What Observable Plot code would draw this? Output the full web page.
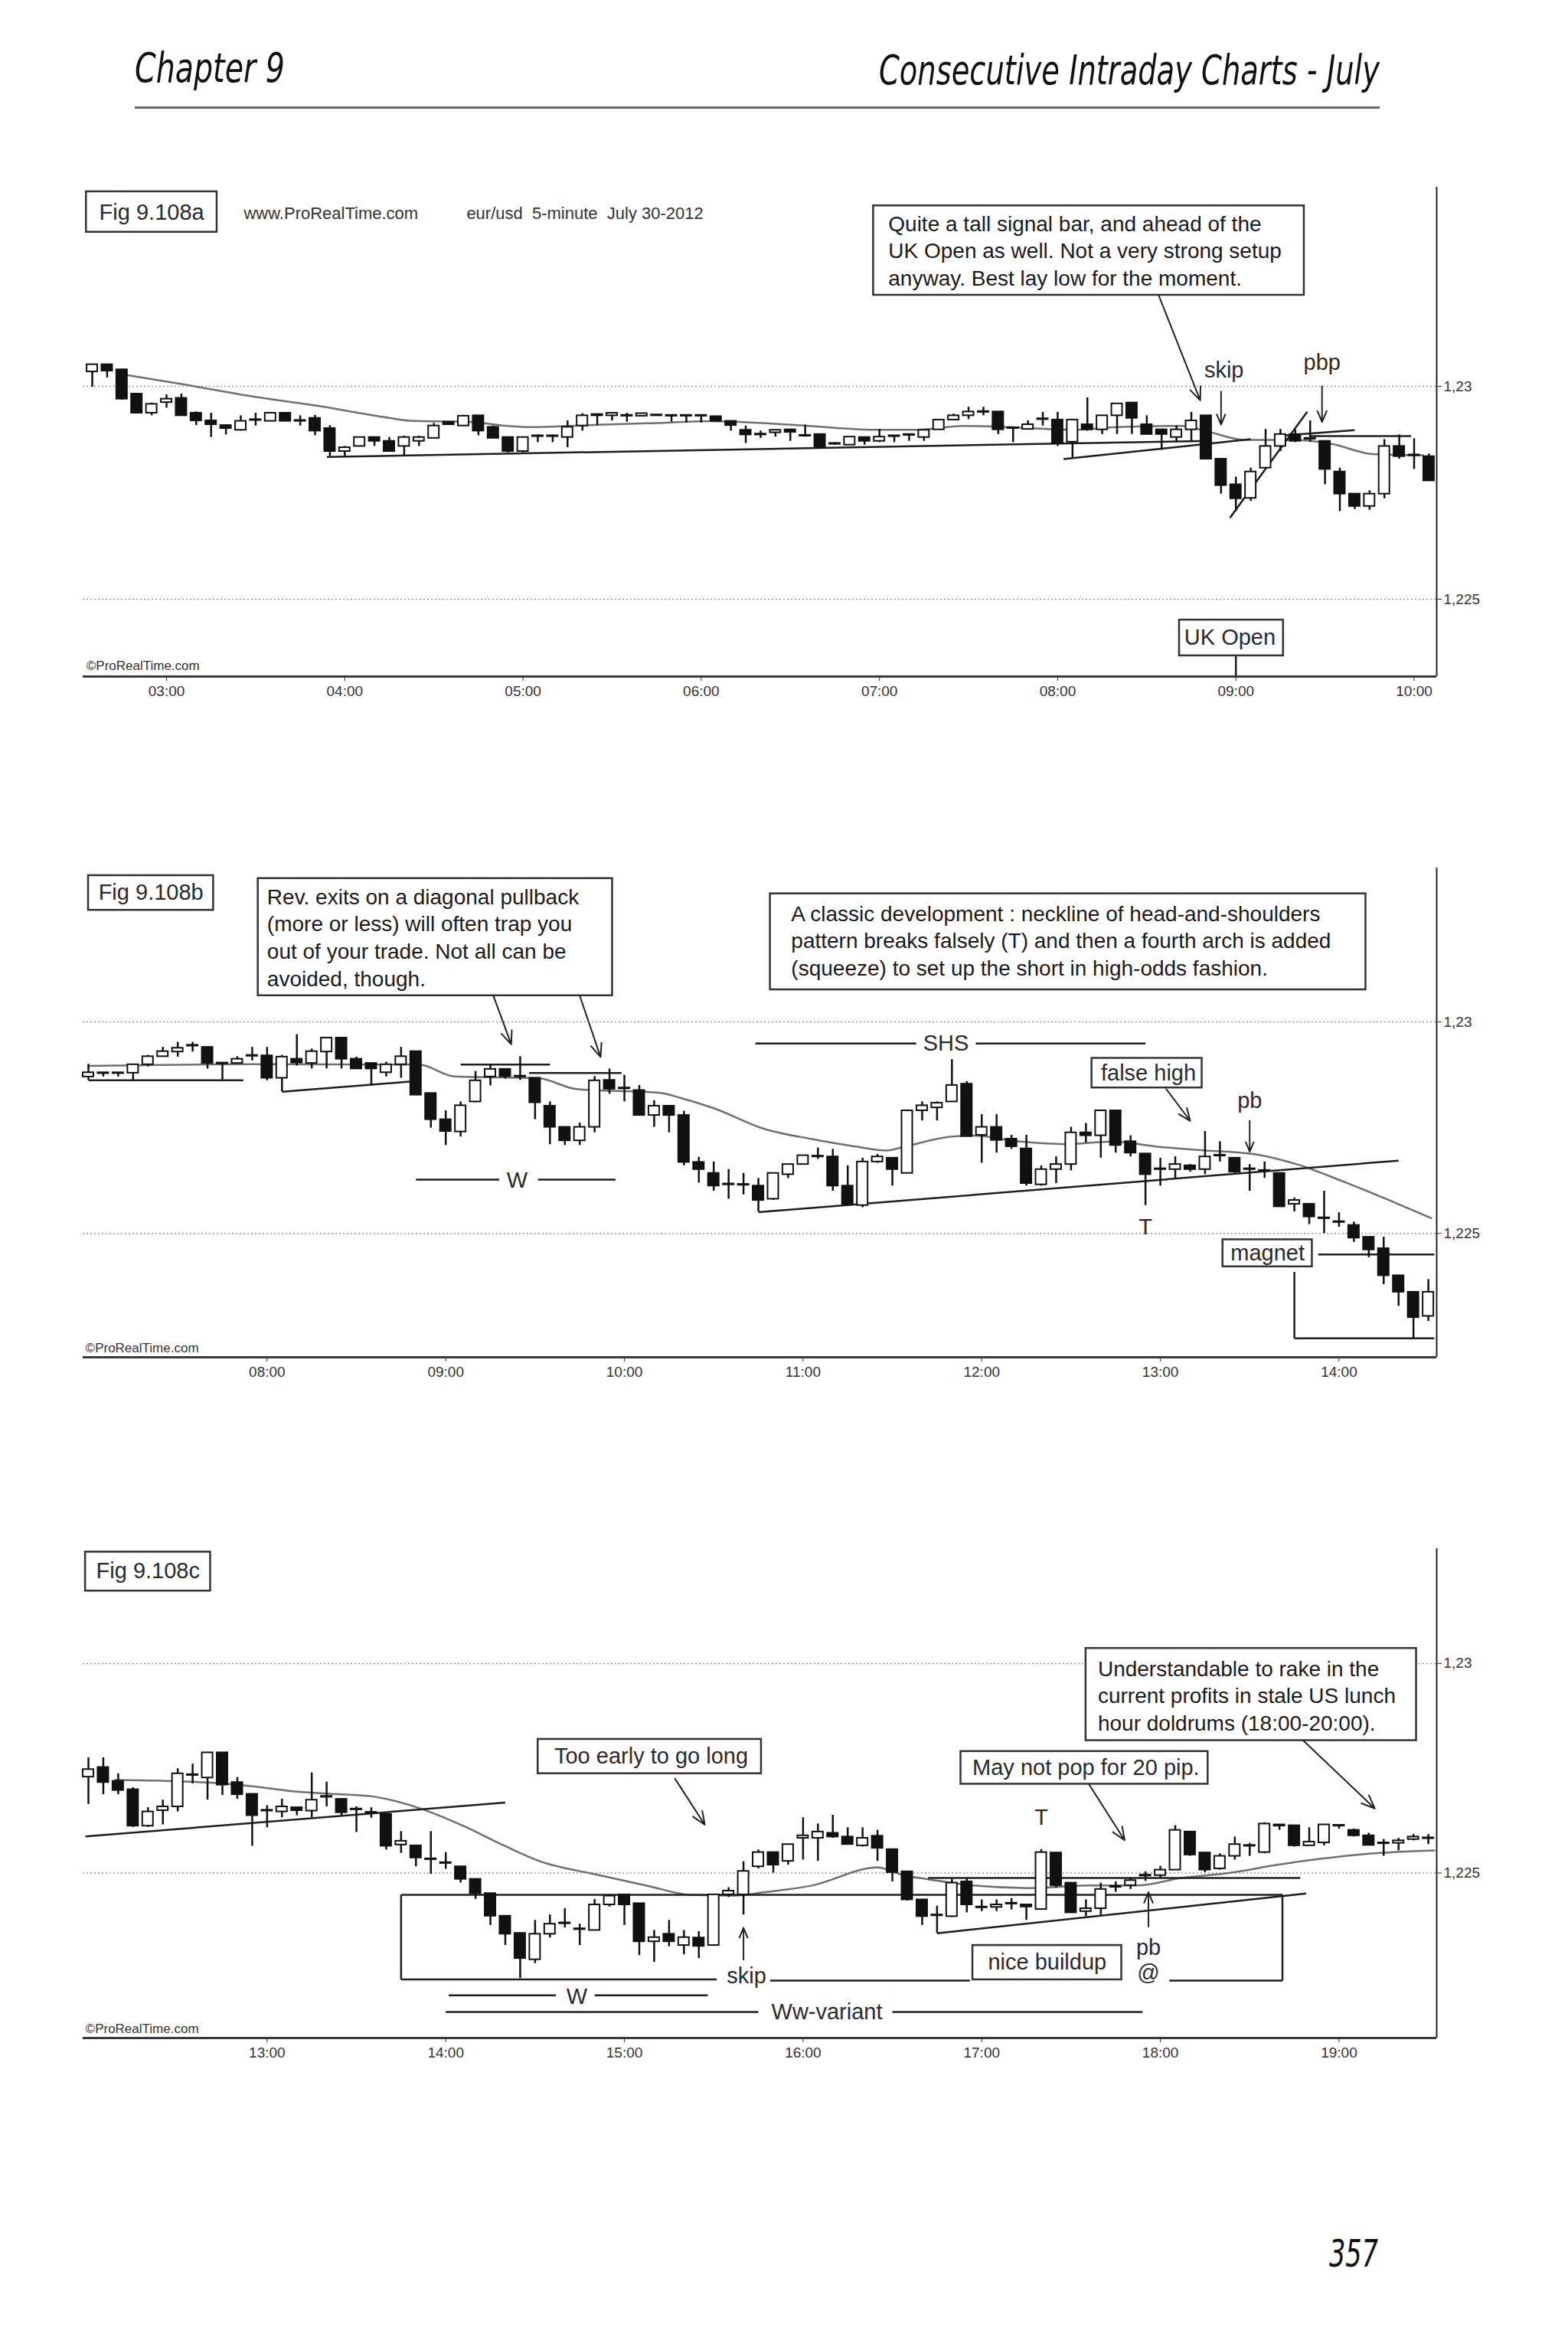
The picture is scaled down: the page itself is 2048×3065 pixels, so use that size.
<!DOCTYPE html>
<html><head><meta charset="utf-8">
<script src="https://cdn.jsdelivr.net/npm/d3@7"></script>
<script src="https://cdn.jsdelivr.net/npm/@observablehq/plot@0.6"></script>
<style>
body{margin:0;background:#fff;}
#page{position:relative;width:2048px;height:3065px;background:#fff;overflow:hidden;}
.chart{position:absolute;left:0;}
.deco{position:absolute;left:0;top:0;}
</style></head><body><div id="page">
<svg class="deco" width="2048" height="3065" style="font-family:'Liberation Sans Narrow','DejaVu Sans Condensed','Liberation Sans',sans-serif;font-style:italic">
<text x="176" y="107" font-size="54" fill="#111" textLength="196" lengthAdjust="spacingAndGlyphs">Chapter 9</text>
<text x="1802" y="110" font-size="54" fill="#111" text-anchor="end" textLength="654" lengthAdjust="spacingAndGlyphs">Consecutive Intraday Charts - July</text>
<rect x="176" y="139" width="1626" height="3" fill="#6a6a6a"></rect>
<text x="1800" y="2960" font-size="50" fill="#111" text-anchor="end" textLength="64" lengthAdjust="spacingAndGlyphs">357</text>
</svg>
</div>
<script>
// ---------------- Chart a : eur/usd 5-minute, 30 July 2012, bars from 02:35 ----------------
const aStart = "02:35";
const aOpen = [1.23034,1.23051,1.23039,1.22982,1.22937,1.22962,1.22972,1.22937,1.22919,1.22908,
1.22897,1.22920,1.22918,1.22937,1.22920,1.22925,1.22901,1.22847,1.22859,1.22880,
1.22871,1.22859,1.22871,1.22878,1.22916,1.22907,1.22931,1.22904,1.22880,1.22847,
1.22882,1.22882,1.22880,1.22907,1.22934,1.22931,1.22930,1.22930,1.22931,1.22932,
1.22932,1.22932,1.22929,1.22918,1.22897,1.22886,1.22891,1.22898,1.22883,1.22887,
1.22864,1.22862,1.22880,1.22871,1.22884,1.22887,1.22880,1.22898,1.22921,1.22931,
1.22939,1.22940,1.22903,1.22899,1.22922,1.22921,1.22869,1.22910,1.22898,1.22931,
1.22961,1.22910,1.22898,1.22880,1.22898,1.22931,1.22829,1.22769,1.22737,1.22808,
1.22859,1.22887,1.22876,1.22871,1.22799,1.22747,1.22718,1.22747,1.22859,1.22837,
1.22835];
const aHigh = [1.23052,1.23052,1.23040,1.22983,1.22961,1.22980,1.22982,1.22940,1.22937,1.22910,
1.22931,1.22937,1.22937,1.22937,1.22931,1.22932,1.22908,1.22859,1.22880,1.22880,
1.22880,1.22883,1.22883,1.22913,1.22916,1.22932,1.22931,1.22907,1.22880,1.22880,
1.22886,1.22886,1.22919,1.22936,1.22934,1.22937,1.22937,1.22937,1.22934,1.22932,
1.22932,1.22932,1.22930,1.22918,1.22907,1.22895,1.22897,1.22898,1.22909,1.22887,
1.22868,1.22881,1.22880,1.22899,1.22884,1.22887,1.22897,1.22921,1.22935,1.22951,
1.22951,1.22940,1.22903,1.22919,1.22939,1.22939,1.22923,1.22973,1.22931,1.22959,
1.22961,1.22931,1.22898,1.22907,1.22939,1.22931,1.22829,1.22787,1.22808,1.22899,
1.22899,1.22898,1.22919,1.22871,1.22808,1.22747,1.22755,1.22875,1.22886,1.22877,
1.22841];
const aLow = [1.22998,1.23020,1.22968,1.22936,1.22931,1.22949,1.22930,1.22908,1.22880,1.22886,
1.22895,1.22907,1.22918,1.22918,1.22907,1.22884,1.22835,1.22836,1.22859,1.22859,
1.22847,1.22836,1.22859,1.22878,1.22910,1.22907,1.22884,1.22878,1.22844,1.22844,
1.22868,1.22868,1.22856,1.22895,1.22908,1.22919,1.22916,1.22930,1.22930,1.22916,
1.22914,1.22914,1.22918,1.22895,1.22866,1.22878,1.22881,1.22871,1.22881,1.22854,
1.22862,1.22862,1.22862,1.22868,1.22868,1.22871,1.22871,1.22898,1.22921,1.22922,
1.22931,1.22887,1.22868,1.22899,1.22907,1.22859,1.22832,1.22895,1.22887,1.22887,
1.22887,1.22887,1.22850,1.22869,1.22869,1.22829,1.22747,1.22706,1.22730,1.22808,
1.22847,1.22868,1.22869,1.22769,1.22706,1.22711,1.22709,1.22736,1.22829,1.22805,
1.22778];
const aClose = [1.23051,1.23036,1.22970,1.22937,1.22958,1.22970,1.22931,1.22919,1.22910,1.22901,
1.22918,1.22922,1.22937,1.22918,1.22918,1.22895,1.22847,1.22856,1.22880,1.22871,
1.22847,1.22880,1.22880,1.22907,1.22910,1.22930,1.22895,1.22878,1.22847,1.22880,
1.22884,1.22884,1.22904,1.22931,1.22931,1.22937,1.22932,1.22936,1.22933,1.22930,
1.22930,1.22930,1.22918,1.22908,1.22886,1.22888,1.22897,1.22892,1.22885,1.22856,
1.22866,1.22881,1.22871,1.22881,1.22882,1.22885,1.22897,1.22921,1.22931,1.22940,
1.22941,1.22898,1.22901,1.22910,1.22924,1.22865,1.22921,1.22898,1.22931,1.22959,
1.22925,1.22887,1.22887,1.22898,1.22919,1.22829,1.22767,1.22736,1.22799,1.22859,
1.22887,1.22871,1.22878,1.22805,1.22747,1.22718,1.22747,1.22859,1.22835,1.22839,
1.22778];
const aMA = [["02:46",1.23027],["03:07",1.23003],["03:29",1.22976],["03:51",1.22954],["04:13",1.22928],["04:22",1.22919],["04:43",1.22916],["04:53",1.22908],["05:02",1.22904],["05:12",1.22906],["05:27",1.22910],["05:42",1.22913],["06:03",1.22918],["06:22",1.22913],["06:36",1.22907],["06:59",1.22898],["07:13",1.22898],["07:28",1.22907],["07:43",1.22904],["08:05",1.22898],["08:20",1.22904],["08:42",1.22907],["08:50",1.22895],["09:03",1.22874],["09:19",1.22874],["09:32",1.22865],["09:46",1.22841],["10:03",1.22838]];
const aTicks = ["03:00","04:00","05:00","06:00","07:00","08:00","09:00","10:00"];
const aLines = [["03:54",1.22834,"08:52",1.22872],["08:02",1.22829,"09:05",1.22876],["09:15",1.22884,"09:40",1.22897],["09:25",1.22883,"09:59",1.22883],["08:58",1.22691,"09:24",1.22940],["09:00",1.22367,"09:00",1.22318]];
const aBoxes = [["02:33",1.23362,"03:17",1.23457],["06:58",1.23214,"09:23",1.23424],["08:41",1.22367,"09:16",1.22451]];
const aNotes = [["07:03",1.23410,"Quite a tall signal bar, and ahead of the\nUK Open as well. Not a very strong setup\nanyway. Best lay low for the moment."]];
const aLabels = [["02:55",1.23408,"Fig 9.108a"],["08:56",1.23038,"skip"],["09:29",1.23056,"pbp"],["08:58",1.22409,"UK Open"]];
const aSmall = [["03:26",1.23405,"www.ProRealTime.com"],["04:41",1.23405,"eur/usd  5-minute  July 30-2012"]];
const aCopy = [["02:33",1.22344,"©ProRealTime.com"]];
const aArrows = [["08:34",1.23214,"08:48",1.22967],["08:55",1.22988,"08:55",1.22910],["09:29",1.23000,"09:29",1.22916]];

// ---------------- Chart b : bars from 07:00 ----------------
const bStart = "07:00";
const bOpen = [1.22870,1.22880,1.22880,1.22879,1.22899,1.22918,1.22929,1.22943,1.22940,1.22903,
1.22902,1.22919,1.22920,1.22867,1.22912,1.22902,1.22929,1.22962,1.22912,1.22902,
1.22880,1.22899,1.22930,1.22831,1.22769,1.22740,1.22811,1.22870,1.22888,1.22872,
1.22867,1.22801,1.22751,1.22719,1.22751,1.22862,1.22844,1.22838,1.22779,1.22801,
1.22779,1.22668,1.22642,1.22617,1.22616,1.22612,1.22581,1.22639,1.22663,1.22681,
1.22681,1.22612,1.22566,1.22669,1.22678,1.22642,1.22790,1.22797,1.22811,1.22853,
1.22732,1.22751,1.22723,1.22700,1.22615,1.22651,1.22663,1.22738,1.22731,1.22790,
1.22717,1.22688,1.22653,1.22651,1.22660,1.22651,1.22685,1.22678,1.22653,1.22649,
1.22642,1.22569,1.22569,1.22537,1.22528,1.22519,1.22491,1.22464,1.22400,1.22361,
1.22304];
const bHigh = [1.22900,1.22880,1.22880,1.22899,1.22921,1.22940,1.22952,1.22952,1.22940,1.22903,
1.22918,1.22940,1.22940,1.22921,1.22970,1.22936,1.22962,1.22962,1.22917,1.22902,
1.22905,1.22940,1.22930,1.22831,1.22790,1.22811,1.22883,1.22899,1.22889,1.22918,
1.22867,1.22811,1.22751,1.22761,1.22871,1.22889,1.22874,1.22850,1.22814,1.22801,
1.22789,1.22680,1.22669,1.22651,1.22642,1.22630,1.22642,1.22663,1.22684,1.22702,
1.22699,1.22660,1.22678,1.22687,1.22678,1.22790,1.22811,1.22811,1.22911,1.22859,
1.22781,1.22781,1.22732,1.22732,1.22660,1.22681,1.22751,1.22760,1.22790,1.22790,
1.22731,1.22688,1.22678,1.22681,1.22663,1.22741,1.22717,1.22678,1.22663,1.22669,
1.22642,1.22584,1.22569,1.22600,1.22549,1.22527,1.22491,1.22491,1.22400,1.22361,
1.22391];
const bLow = [1.22862,1.22870,1.22870,1.22862,1.22894,1.22917,1.22917,1.22929,1.22889,1.22863,
1.22902,1.22908,1.22861,1.22835,1.22896,1.22889,1.22889,1.22889,1.22889,1.22849,
1.22870,1.22867,1.22827,1.22749,1.22708,1.22728,1.22809,1.22849,1.22865,1.22862,
1.22769,1.22710,1.22708,1.22708,1.22738,1.22829,1.22811,1.22779,1.22751,1.22738,
1.22660,1.22619,1.22600,1.22581,1.22591,1.22551,1.22578,1.22630,1.22663,1.22675,
1.22600,1.22566,1.22561,1.22666,1.22612,1.22642,1.22766,1.22766,1.22811,1.22729,
1.22666,1.22690,1.22699,1.22612,1.22612,1.22618,1.22648,1.22714,1.22678,1.22690,
1.22681,1.22566,1.22612,1.22630,1.22645,1.22639,1.22669,1.22642,1.22600,1.22630,
1.22563,1.22551,1.22521,1.22500,1.22515,1.22479,1.22443,1.22379,1.22328,1.22252,
1.22292];
const bClose = [1.22880,1.22878,1.22878,1.22899,1.22918,1.22930,1.22938,1.22945,1.22902,1.22901,
1.22912,1.22921,1.22867,1.22917,1.22903,1.22930,1.22962,1.22912,1.22889,1.22889,
1.22899,1.22918,1.22827,1.22769,1.22741,1.22802,1.22861,1.22888,1.22871,1.22870,
1.22809,1.22751,1.22719,1.22751,1.22861,1.22841,1.22842,1.22779,1.22801,1.22779,
1.22668,1.22651,1.22612,1.22615,1.22614,1.22578,1.22642,1.22663,1.22684,1.22683,
1.22612,1.22569,1.22669,1.22681,1.22651,1.22790,1.22802,1.22808,1.22850,1.22729,
1.22751,1.22720,1.22705,1.22618,1.22651,1.22663,1.22738,1.22731,1.22790,1.22708,
1.22690,1.22639,1.22651,1.22663,1.22651,1.22681,1.22683,1.22645,1.22651,1.22647,
1.22563,1.22578,1.22539,1.22535,1.22526,1.22489,1.22461,1.22400,1.22361,1.22301,
1.22361];
const bMA = [["07:00",1.22896],["07:55",1.22900],["08:51",1.22899],["09:03",1.22871],["09:31",1.22867],["09:44",1.22841],["10:12",1.22832],["10:19",1.22820],["10:30",1.22796],["10:47",1.22747],["11:03",1.22723],["11:18",1.22705],["11:28",1.22696],["11:34",1.22705],["11:50",1.22729],["11:57",1.22731],["12:13",1.22717],["12:28",1.22711],["12:44",1.22717],["12:59",1.22705],["13:15",1.22696],["13:23",1.22693],["13:32",1.22687],["13:46",1.22663],["14:02",1.22621],["14:17",1.22578],["14:31",1.22536]];
const bTicks = ["08:00","09:00","10:00","11:00","12:00","13:00","14:00"];
const bLines = [["10:45",1.22550,"14:20",1.22672],["07:00",1.22862,"07:52",1.22862],["08:05",1.22835,"08:50",1.22860],["09:05",1.22899,"09:35",1.22899],["09:28",1.22879,"09:59",1.22879],["08:50",1.22627,"09:18",1.22627],["09:31",1.22627,"09:57",1.22627],["10:44",1.22949,"11:38",1.22949],["11:58",1.22949,"12:55",1.22949],["13:53",1.22450,"14:32",1.22450],["13:45",1.22409,"13:45",1.22252],["13:45",1.22252,"14:32",1.22252]];
const bBoxes = [["07:00",1.23264,"07:42",1.23346],["07:57",1.23062,"09:56",1.23339],["10:49",1.23076,"14:09",1.23303],["12:37",1.22844,"13:14",1.22914],["13:21",1.22421,"13:51",1.22485]];
const bNotes = [["08:00",1.23324,"Rev. exits on a diagonal pullback\n(more or less) will often trap you\nout of your trade. Not all can be\navoided, though."],["10:56",1.23284,"A classic development : neckline of head-and-shoulders\npattern breaks falsely (T) and then a fourth arch is added\n(squeeze) to set up the short in high-odds fashion."]];
const bLabels = [["07:21",1.23306,"Fig 9.108b"],["09:24",1.22624,"W"],["11:48",1.22949,"SHS"],["12:55",1.22515,"T"],["12:56",1.22879,"false high"],["13:30",1.22814,"pb"],["13:36",1.22453,"magnet"]];
const bSmall = [];
const bCopy = [["06:59",1.22228,"©ProRealTime.com"]];
const bArrows = [["09:16",1.23062,"09:22",1.22947],["09:45",1.23062,"09:52",1.22917],["13:02",1.22841,"13:10",1.22766],["13:30",1.22766,"13:30",1.22693]];

// ---------------- Chart c : bars from 12:00 ----------------
const cStart = "12:00";
const cOpen = [1.22729,1.22752,1.22719,1.22699,1.22612,1.22649,1.22658,1.22733,1.22727,1.22787,
1.22716,1.22688,1.22648,1.22646,1.22656,1.22648,1.22681,1.22676,1.22651,1.22643,
1.22640,1.22567,1.22565,1.22532,1.22523,1.22515,1.22485,1.22451,1.22397,1.22356,
1.22293,1.22354,1.22379,1.22365,1.22363,1.22424,1.22448,1.22427,1.22336,1.22354,
1.22327,1.22345,1.22327,1.22448,1.22448,1.22515,1.22549,1.22528,1.22583,1.22583,
1.22595,1.22586,1.22565,1.22588,1.22556,1.22503,1.22436,1.22398,1.22396,1.22479,
1.22417,1.22418,1.22426,1.22424,1.22413,1.22548,1.22476,1.22408,1.22415,1.22466,
1.22470,1.22493,1.22494,1.22507,1.22598,1.22548,1.22510,1.22540,1.22564,1.22549,
1.22615,1.22613,1.22565,1.22572,1.22614,1.22602,1.22589,1.22570,1.22571,1.22580,
1.22582];
const cHigh = [1.22775,1.22775,1.22737,1.22704,1.22656,1.22674,1.22749,1.22760,1.22787,1.22787,
1.22728,1.22688,1.22661,1.22676,1.22656,1.22739,1.22717,1.22676,1.22658,1.22656,
1.22640,1.22599,1.22565,1.22599,1.22549,1.22515,1.22485,1.22451,1.22397,1.22356,
1.22387,1.22400,1.22415,1.22378,1.22437,1.22448,1.22448,1.22427,1.22363,1.22387,
1.22363,1.22360,1.22448,1.22465,1.22527,1.22555,1.22549,1.22568,1.22632,1.22617,
1.22638,1.22608,1.22608,1.22602,1.22556,1.22503,1.22436,1.22421,1.22485,1.22488,
1.22436,1.22436,1.22439,1.22424,1.22556,1.22548,1.22476,1.22436,1.22476,1.22479,
1.22488,1.22503,1.22516,1.22613,1.22598,1.22548,1.22546,1.22586,1.22571,1.22620,
1.22615,1.22613,1.22608,1.22615,1.22614,1.22605,1.22595,1.22580,1.22583,1.22592,
1.22592];
const cLow = [1.22664,1.22687,1.22687,1.22609,1.22609,1.22615,1.22646,1.22713,1.22674,1.22685,
1.22676,1.22564,1.22608,1.22632,1.22637,1.22632,1.22658,1.22637,1.22597,1.22631,
1.22555,1.22547,1.22515,1.22497,1.22509,1.22476,1.22437,1.22375,1.22327,1.22248,
1.22284,1.22345,1.22369,1.22327,1.22362,1.22419,1.22375,1.22303,1.22287,1.22324,
1.22305,1.22296,1.22327,1.22442,1.22400,1.22510,1.22500,1.22519,1.22531,1.22528,
1.22583,1.22568,1.22562,1.22528,1.22479,1.22433,1.22375,1.22356,1.22394,1.22405,
1.22408,1.22408,1.22412,1.22387,1.22413,1.22464,1.22405,1.22396,1.22399,1.22454,
1.22461,1.22480,1.22488,1.22507,1.22540,1.22501,1.22507,1.22531,1.22540,1.22546,
1.22602,1.22562,1.22565,1.22565,1.22605,1.22586,1.22566,1.22540,1.22553,1.22577,
1.22568];
const cClose = [1.22747,1.22716,1.22697,1.22612,1.22646,1.22658,1.22737,1.22735,1.22787,1.22710,
1.22687,1.22637,1.22650,1.22658,1.22649,1.22674,1.22683,1.22644,1.22653,1.22645,
1.22564,1.22576,1.22536,1.22534,1.22525,1.22485,1.22451,1.22397,1.22354,1.22296,
1.22354,1.22378,1.22381,1.22367,1.22424,1.22445,1.22424,1.22336,1.22346,1.22336,
1.22346,1.22325,1.22448,1.22457,1.22504,1.22549,1.22519,1.22568,1.22589,1.22598,
1.22586,1.22568,1.22583,1.22559,1.22501,1.22436,1.22396,1.22400,1.22476,1.22424,
1.22419,1.22424,1.22428,1.22419,1.22549,1.22470,1.22405,1.22415,1.22461,1.22468,
1.22482,1.22495,1.22507,1.22602,1.22543,1.22507,1.22540,1.22568,1.22566,1.22617,
1.22612,1.22565,1.22574,1.22615,1.22612,1.22589,1.22566,1.22572,1.22577,1.22586,
1.22584];
const cMA = [["12:09",1.22722],["12:40",1.22716],["12:55",1.22707],["13:10",1.22694],["13:24",1.22688],["13:36",1.22682],["13:51",1.22655],["14:06",1.22612],["14:20",1.22564],["14:32",1.22527],["14:50",1.22497],["15:08",1.22469],["15:22",1.22448],["15:37",1.22446],["15:47",1.22454],["16:03",1.22470],["16:25",1.22513],["16:34",1.22494],["16:42",1.22485],["16:57",1.22470],["17:16",1.22464],["17:36",1.22470],["17:52",1.22470],["18:07",1.22488],["18:23",1.22500],["18:39",1.22519],["18:54",1.22534],["19:10",1.22546],["19:32",1.22554]];
const cTicks = ["13:00","14:00","15:00","16:00","17:00","18:00","19:00"];
const cLines = [["11:59",1.22587,"14:20",1.22668],["13:45",1.22448,"18:41",1.22448],["13:45",1.22246,"15:31",1.22246],["13:45",1.22448,"13:45",1.22246],["18:41",1.22448,"18:41",1.22243],["18:03",1.22243,"18:41",1.22243],["15:49",1.22243,"16:56",1.22243],["16:42",1.22488,"18:47",1.22488],["16:45",1.22356,"18:49",1.22451],["14:01",1.22208,"14:37",1.22208],["14:50",1.22208,"15:28",1.22208],["14:00",1.22168,"15:45",1.22168],["16:30",1.22168,"17:54",1.22168]];
const cBoxes = [["11:59",1.23173,"12:41",1.23266],["14:31",1.22737,"15:46",1.22819],["16:53",1.22712,"18:16",1.22790],["17:35",1.22816,"19:26",1.23036],["16:57",1.22245,"17:47",1.22327]];
const cNotes = [["17:39",1.23016,"Understandable to rake in the\ncurrent profits in stale US lunch\nhour doldrums (18:00-20:00)."]];
const cLabels = [["12:20",1.23221,"Fig 9.108c"],["15:09",1.22778,"Too early to go long"],["17:35",1.22751,"May not pop for 20 pip."],["17:22",1.22286,"nice buildup"],["17:20",1.22632,"T"],["17:56",1.22321,"pb"],["17:56",1.22261,"@"],["15:41",1.22254,"skip"],["14:44",1.22205,"W"],["16:08",1.22168,"Ww-variant"]];
const cSmall = [];
const cCopy = [["11:59",1.22128,"©ProRealTime.com"]];
const cArrows = [["15:17",1.22725,"15:27",1.22615],["17:36",1.22712,"17:48",1.22578],["18:48",1.22816,"19:12",1.22654],["15:40",1.22293,"15:40",1.22369],["17:56",1.22372,"17:56",1.22454]];

const grid = [1.225, 1.23];

// ---------------- drawing ----------------
const T = s => { const [h, m] = s.split(":").map(Number); return h * 60 + m; };
const fmt = m => String(Math.floor(m / 60)).padStart(2, "0") + ":" + String(m % 60).padStart(2, "0");

function drawChart(c) {
  const t0 = T(c.start);
  const bars = c.open.map((o, i) => ({t: t0 + 5 * i, o, h: c.high[i], l: c.low[i], cl: c.close[i]}));
  const half = 1.8;
  return Plot.plot({
    width: 2048, height: 739,
    marginLeft: 108, marginRight: 172, marginTop: 30, marginBottom: 70,
    x: {type: "linear", domain: c.xDomain, axis: null, label: null},
    y: {type: "linear", domain: c.yDomain, axis: null, label: null},
    style: {fontFamily: "'Liberation Sans', Arial, sans-serif", background: "transparent", overflow: "visible", color: "#222"},
    marks: [
      Plot.ruleY(grid, {stroke: "#9a9a9a", strokeWidth: 1.5, strokeDasharray: "2,3"}),
      Plot.line(c.ma, {x: d => T(d[0]), y: d => d[1], stroke: "#707070", strokeWidth: 2.5, curve: "monotone-x"}),
      Plot.link(c.lines, {x1: d => T(d[0]), y1: d => d[1], x2: d => T(d[2]), y2: d => d[3], stroke: "#1e1e1e", strokeWidth: 2.5}),
      Plot.ruleX(bars, {x: "t", y1: "l", y2: "h", stroke: "#111", strokeWidth: 2.5}),
      Plot.rect(bars, {x1: d => d.t - half, x2: d => d.t + half, y1: "o", y2: "cl", fill: d => d.cl > d.o ? "#ffffff" : "#111111", stroke: "#111", strokeWidth: 2}),
      Plot.ruleY([c.yDomain[0]], {stroke: "#3a3a3a", strokeWidth: 3}),
      Plot.ruleX([c.xDomain[1]], {stroke: "#222", strokeWidth: 2}),
      Plot.axisX({ticks: c.ticks.map(T), tickFormat: fmt, tickSize: 6, tickPadding: 6, fontSize: 19, color: "#333", label: null}),
      Plot.axisY({anchor: "right", ticks: grid, tickFormat: d => String(d).replace(".", ","), tickSize: 6, tickPadding: 3, fontSize: 19, color: "#333", label: null}),
      Plot.rect(c.boxes, {x1: d => T(d[0]), y1: d => d[1], x2: d => T(d[2]), y2: d => d[3], fill: "#fff", stroke: "#333", strokeWidth: 2.5}),
      Plot.arrow(c.arrows, {x1: d => T(d[0]), y1: d => d[1], x2: d => T(d[2]), y2: d => d[3], stroke: "#222", strokeWidth: 2, headLength: 14, headAngle: 45}),
      Plot.text(c.notes, {x: d => T(d[0]), y: d => d[1], text: d => d[2], textAnchor: "start", lineAnchor: "top", fontSize: 28, lineHeight: 1.27, fill: "#1a1a1a"}),
      Plot.text(c.labels, {x: d => T(d[0]), y: d => d[1], text: d => d[2], fontSize: 29, fill: "#2a2a2a"}),
      Plot.text(c.small, {x: d => T(d[0]), y: d => d[1], text: d => d[2], textAnchor: "start", fontSize: 22, fill: "#333"}),
      Plot.text(c.copy, {x: d => T(d[0]), y: d => d[1], text: d => d[2], textAnchor: "start", fontSize: 17, fill: "#333"})
    ]
  });
}

const charts = [
  {top: 214, start: aStart, open: aOpen, high: aHigh, low: aLow, close: aClose, ma: aMA, ticks: aTicks, lines: aLines, boxes: aBoxes, notes: aNotes, labels: aLabels, small: aSmall, copy: aCopy, arrows: aArrows, xDomain: [151.9, 607.6], yDomain: [1.223183, 1.234676]},
  {top: 1103, start: bStart, open: bOpen, high: bHigh, low: bLow, close: bClose, ma: bMA, ticks: bTicks, lines: bLines, boxes: bBoxes, notes: bNotes, labels: bLabels, small: bSmall, copy: bCopy, arrows: bArrows, xDomain: [418.2, 872.8], yDomain: [1.22207, 1.23364]},
  {top: 1992, start: cStart, open: cOpen, high: cHigh, low: cLow, close: cClose, ma: cMA, ticks: cTicks, lines: cLines, boxes: cBoxes, notes: cNotes, labels: cLabels, small: cSmall, copy: cCopy, arrows: cArrows, xDomain: [718.2, 1172.8], yDomain: [1.22106, 1.23274]}
];
const page = document.getElementById("page");
for (const c of charts) {
  const wrap = document.createElement("div");
  wrap.className = "chart";
  wrap.style.top = c.top + "px";
  wrap.appendChild(drawChart(c));
  page.appendChild(wrap);
}
</script>
</body></html>
